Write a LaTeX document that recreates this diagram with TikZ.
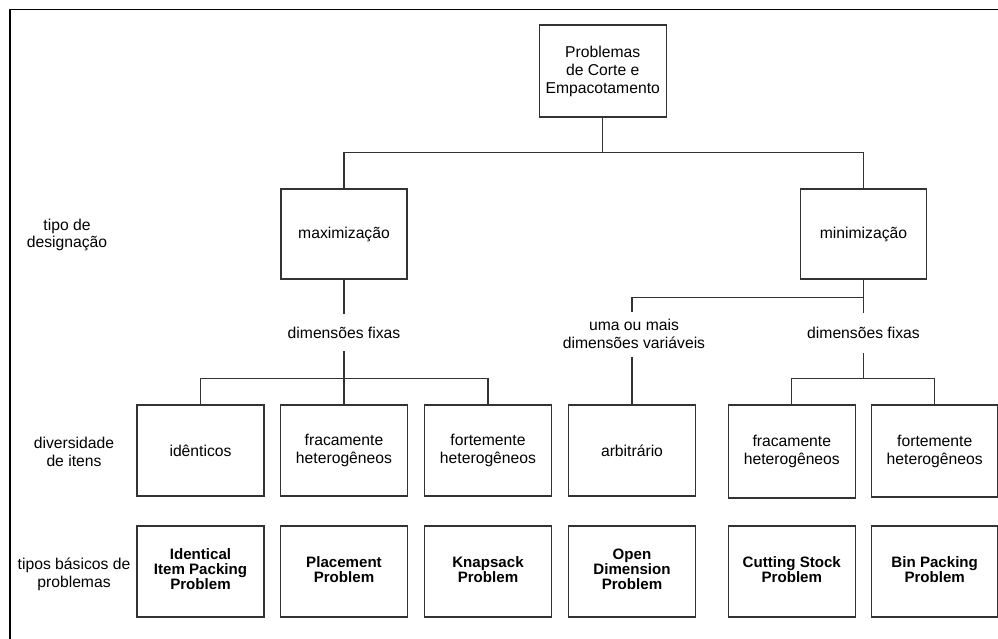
\documentclass[tikz,border=0pt]{standalone}
\usepackage{fontspec}
\setmainfont{Liberation Sans}
\begin{document}
\begin{tikzpicture}[x=1pt,y=-1pt,
  box/.style={draw=black!80, line width=1.3pt, minimum width=127pt, minimum height=91pt, inner sep=0pt, align=center, font=\fontsize{15.7}{18}\selectfont},
  bbox/.style={box, text depth=4pt, font=\fontsize{15.1}{15}\selectfont\bfseries},
  lbl/.style={inner sep=0pt, align=center, font=\fontsize{15.7}{18}\selectfont},
  conn/.style={draw=black!80, line width=1.3pt}]
\useasboundingbox (0,0) rectangle (998,639);
\draw[line width=1.7pt] (10,639) -- (10,9.6) -- (998,9.6);

% top
\node[box, minimum width=127pt, minimum height=92pt] (root) at (602.7,71) {Problemas\\de Corte e\\Empacotamento};
\node[box, minimum width=126pt, minimum height=90pt] (max) at (344,234) {maximização};
\node[box, minimum width=126pt, minimum height=90pt] (min) at (863.5,234) {minimização};

% labels
\node[lbl, minimum height=37pt] (fixL) at (344,332.5) {dimensões fixas};
\node[lbl, minimum height=39.7pt] (fixR) at (863.5,333) {dimensões fixas};
\node[lbl, minimum height=45pt] (varR) at (634,334.2) {uma ou mais\\dimensões variáveis};

\node[lbl, font=\fontsize{15.7}{17}\selectfont] (l1) at (67,234.5) {tipo de\\designação};
\node[lbl] (l2) at (74,451.7) {diversidade\\de itens};
\node[lbl] (l3) at (74,574.5) {tipos básicos de\\problemas};

% row 2
\node[box] (ident) at (200.5,450.5) {idênticos};
\node[box] (fracL) at (344,450.5) {fracamente\\heterogêneos};
\node[box] (forteL) at (488,450.5) {fortemente\\heterogêneos};
\node[box] (arb) at (632,450.5) {arbitrário};
\node[box, minimum height=93pt] (fracR) at (791.8,451.5) {fracamente\\heterogêneos};
\node[box, minimum width=126pt, minimum height=92pt] (forteR) at (934.7,451) {fortemente\\heterogêneos};

% row 3
\node[bbox] (p1) at (200.5,571.5) {Identical\\Item Packing\\Problem};
\node[bbox] (p2) at (344,571.5) {Placement\\Problem};
\node[bbox] (p3) at (488,571.5) {Knapsack\\Problem};
\node[bbox] (p4) at (632,571.5) {Open\\Dimension\\Problem};
\node[bbox] (p5) at (791.8,571.5) {Cutting Stock\\Problem};
\node[bbox, minimum width=126pt] (p6) at (934.7,571.5) {Bin Packing\\Problem};

% connectors
\coordinate (j1) at (602.7,152.3);
\draw[conn] (root.south) -- (j1);
\draw[conn] (max.north) |- (j1) -| (min.north);

\draw[conn] (max.south) -- (fixL.north);
\coordinate (j2) at (344,378.3);
\draw[conn] (fixL.south) -- (j2) -- (fracL.north);
\draw[conn] (ident.north) |- (j2) -| (forteL.north);

\draw[conn] (min.south) -- (fixR.north);
\coordinate (j3) at (863.5,297.7);
\coordinate (v3) at (632,297.7);
\draw[conn] (j3) -- (v3) -- (v3 |- varR.north);
\draw[conn] (arb.north |- varR.south) -- (arb.north);
\coordinate (j4) at (863.5,378.3);
\draw[conn] (fixR.south) -- (j4);
\draw[conn] (fracR.north) |- (j4) -| (forteR.north);
\end{tikzpicture}
\end{document}
